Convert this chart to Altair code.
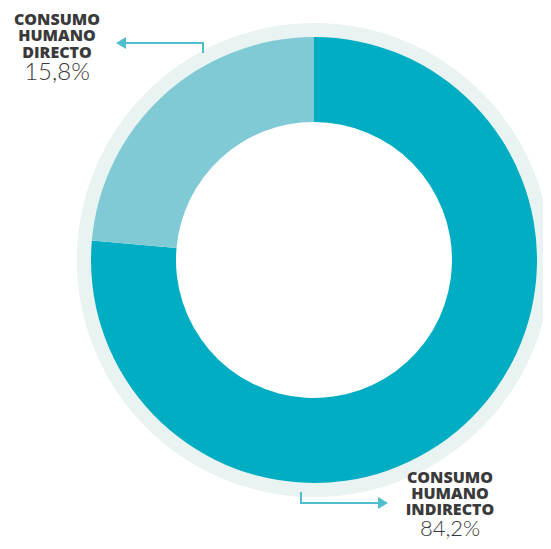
import altair as alt
import pandas as pd

# Categories, label texts and the slice shares as drawn in the picture
categories = ["CONSUMO HUMANO INDIRECTO", "CONSUMO HUMANO DIRECTO"]
label_lines = [["CONSUMO", "HUMANO", "INDIRECTO"], ["CONSUMO", "HUMANO", "DIRECTO"]]
label_pct = ["84,2%", "15,8%"]
drawn_share = [76.4, 23.6]   # angular share of each slice as drawn
slice_order = [1, 2]

DARK = "#00ADC2"
LIGHT = "#80CAD6"
RING = "#E8F3F2"
ARROW = "#4FBECC"
TEXT = "#3A3A3A"

df = pd.DataFrame({
    "cat": categories,
    "share": drawn_share,
    "order": slice_order,
})

CX, CY = 306, 252

one = pd.DataFrame({"v": [0]})

ring = alt.Chart(one).mark_arc(
    theta=0, theta2=6.2832, outerRadius=237, innerRadius=222, color=RING
).encode(x=alt.value(CX), y=alt.value(CY))

donut = alt.Chart(df).mark_arc(outerRadius=223, innerRadius=138).encode(
    theta=alt.Theta("share:Q", stack=True),
    order=alt.Order("order:Q"),
    color=alt.Color("cat:N", scale=alt.Scale(domain=categories, range=[DARK, LIGHT]), legend=None),
    x=alt.value(CX), y=alt.value(CY),
)

# top-left label arrow
r1 = alt.Chart(one).mark_rule(color=ARROW, strokeWidth=2).encode(
    x=alt.value(115), x2=alt.value(196), y=alt.value(35))
r2 = alt.Chart(one).mark_rule(color=ARROW, strokeWidth=2).encode(
    x=alt.value(195), y=alt.value(34), y2=alt.value(45))
h1 = alt.Chart(one).mark_point(
    shape="M0.83,-1L-0.83,0L0.83,1Z", filled=True, opacity=1, size=144, color=ARROW, strokeWidth=0
).encode(x=alt.value(113), y=alt.value(35))

# bottom-right label arrow
r3 = alt.Chart(one).mark_rule(color=ARROW, strokeWidth=2).encode(
    x=alt.value(293), y=alt.value(484), y2=alt.value(496))
r4 = alt.Chart(one).mark_rule(color=ARROW, strokeWidth=2).encode(
    x=alt.value(292), x2=alt.value(373), y=alt.value(495))
h2 = alt.Chart(one).mark_point(
    shape="M-0.83,-1L0.83,0L-0.83,1Z", filled=True, opacity=1, size=144, color=ARROW, strokeWidth=0
).encode(x=alt.value(375), y=alt.value(495))

def name_lines(lines, x, y0, step):
    out = []
    for i, line in enumerate(lines):
        out.append(alt.Chart(pd.DataFrame({"t": [line]})).mark_text(
            font="Open Sans", fontWeight=800, fontSize=16,
            align="center", baseline="alphabetic", color=TEXT
        ).encode(text="t:N", x=alt.value(x), y=alt.value(y0 + i * step)))
    return out

def pct_text(txt, x, y, size):
    return alt.Chart(pd.DataFrame({"t": [txt]})).mark_text(
        font="Lato", fontWeight=300, fontSize=size, align="center", baseline="alphabetic", color=TEXT
    ).encode(text="t:N", x=alt.value(x), y=alt.value(y))

t1 = name_lines(label_lines[1], 49, 17, 16.3)
p1 = pct_text(label_pct[1], 49, 72, 24)
t2 = name_lines(label_lines[0], 442, 475, 16)
p2 = pct_text(label_pct[0], 442, 528, 22)

chart = alt.layer(ring, donut, r1, r2, h1, r3, r4, h2, *t1, p1, *t2, p2).properties(
    width=535, height=533, padding=0, autosize=alt.AutoSizeParams(type="none")
).configure_view(stroke=None)

chart.save("out.html", embed_options={"renderer": "svg", "actions": False})
